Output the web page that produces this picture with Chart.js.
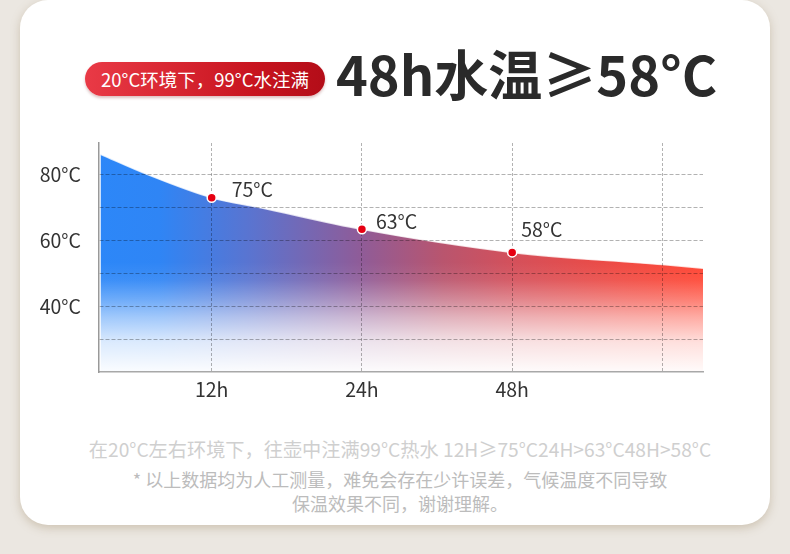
<!DOCTYPE html>
<html lang="zh-CN">
<head>
  <meta charset="UTF-8">
  <title>48h水温≥58°C</title>
  <script src="https://cdn.jsdelivr.net/npm/chart.js"></script>
  <style>
    body {
      margin: 0;
      width: 790px;
      height: 554px;
      overflow: hidden;
      background: #ebe7e1;
      font-family: "Noto Sans CJK SC", "Noto Sans", sans-serif;
      position: relative;
    }

    .card {
      position: absolute;
      left: 20px;
      top: 0;
      width: 750px;
      height: 525px;
      background: #fff;
      border-radius: 28px;
      box-shadow: 0 3px 10px rgba(150, 125, 90, 0.35);
    }

    .pill {
      position: absolute;
      left: 85px;
      top: 62px;
      width: 240px;
      height: 34px;
      border-radius: 17px;
      background: linear-gradient(90deg, #e93a46, #c8141f 70%, #b30d18);
      box-shadow: 0 2px 3px rgba(120, 0, 0, 0.25);
      color: #fff;
      font-size: 18.5px;
      line-height: 34px;
      text-align: center;
      white-space: nowrap;
    }

    .headline {
      position: absolute;
      left: 336px;
      top: 35px;
      font-size: 54px;
      font-weight: bold;
      line-height: 76px;
      color: #2a2a2a;
      white-space: nowrap;
    }

    .chart-box {
      position: absolute;
      left: 0;
      top: 120px;
      width: 790px;
      height: 300px;
    }

    .note {
      position: absolute;
      left: 5px;
      width: 790px;
      text-align: center;
      white-space: nowrap;
    }
  </style>
</head>
<body>
  <div class="card"></div>

  <div class="pill">20°C环境下，99°C水注满</div>
  <div class="headline">48h水温≥58°C</div>

  <div class="chart-box">
    <canvas id="tempChart"></canvas>
  </div>

  <div class="note" style="top:435px; color:#cfcfcf; font-size:19.2px;">在20°C左右环境下，往壶中注满99°C热水 12H≥75°C24H>63°C48H>58°C</div>
  <div class="note" style="top:466px; color:#bcbcbc; font-size:18px;">* 以上数据均为人工测量，难免会存在少许误差，气候温度不同导致</div>
  <div class="note" style="top:490px; color:#bcbcbc; font-size:18px;">保温效果不同，谢谢理解。</div>

  <script>
    // curve (x = slot index, 12h = 1, 24h = 2, 48h = 3)
    const curveX = [0.26, 0.57, 1, 1.31, 2, 3, 4, 4.27];
    const curveY = [86.1, 80, 72.9, 70, 63.3, 56.3, 52.6, 51.5];

    // marked points and their labels
    const markX = [1, 2, 3];
    const markY = [72.9, 63.3, 56.3];
    const markLabels = ['75°C', '63°C', '58°C'];

    // axes
    const xTicks = [1, 2, 3, 4];
    const xTickLabels = ['12h', '24h', '48h', ''];
    const yTicks = [20, 30, 40, 50, 60, 70, 80];
    const yTickLabels = ['', '', '40°C', '', '60°C', '', '80°C'];

    const labelOffsets = [[20, -8], [14, -8], [9, -23]];
    const FONT = '"Noto Sans CJK SC", "Noto Sans", sans-serif';

    // blue -> red across, fading to white at the bottom
    let patternCache = { key: '', pattern: null };
    function areaFill(chart) {
      const a = chart.chartArea;
      if (!a) return 'rgba(0,0,0,0)';
      const key = [a.left, a.top, a.right, a.bottom, chart.width, chart.height].join(',');
      if (patternCache.key === key) return patternCache.pattern;

      const c = document.createElement('canvas');
      c.width = chart.width;
      c.height = chart.height;
      const g = c.getContext('2d');

      const h = g.createLinearGradient(a.left, 0, a.right, 0);
      h.addColorStop(0, '#2c87f8');
      h.addColorStop(0.1, '#2f85f5');
      h.addColorStop(0.25, '#5a74d0');
      h.addColorStop(0.43, '#8e5c99');
      h.addColorStop(0.57, '#b9556e');
      h.addColorStop(0.69, '#d5505a');
      h.addColorStop(0.87, '#f04a42');
      h.addColorStop(1, '#ff4634');
      g.fillStyle = h;
      g.fillRect(0, 0, c.width, c.height);

      const v = g.createLinearGradient(0, a.top, 0, a.bottom);
      v.addColorStop(0, 'rgba(255,255,255,0)');
      v.addColorStop(0.52, 'rgba(255,255,255,0)');
      v.addColorStop(0.6, 'rgba(255,255,255,0.08)');
      v.addColorStop(0.68, 'rgba(255,255,255,0.3)');
      v.addColorStop(0.76, 'rgba(255,255,255,0.55)');
      v.addColorStop(0.87, 'rgba(255,255,255,0.83)');
      v.addColorStop(1, 'rgba(255,255,255,0.98)');
      g.fillStyle = v;
      g.fillRect(0, 0, c.width, c.height);

      patternCache = { key: key, pattern: chart.ctx.createPattern(c, 'no-repeat') };
      return patternCache.pattern;
    }

    // point labels + markers back on top of the grid
    const markerPlugin = {
      id: 'markerPlugin',
      afterDraw(chart) {
        const ctx = chart.ctx;
        const meta = chart.getDatasetMeta(1);
        meta.data.forEach((pt, i) => {
          pt.draw(ctx, chart.chartArea);
          ctx.save();
          ctx.font = '19.5px ' + FONT;
          ctx.fillStyle = '#333';
          ctx.textAlign = 'left';
          ctx.textBaseline = 'middle';
          ctx.fillText(markLabels[i], pt.x + labelOffsets[i][0], pt.y + labelOffsets[i][1]);
          ctx.restore();
        });
      }
    };

    const gridColor = 'rgba(0, 0, 0, 0.3)';

    new Chart(document.getElementById('tempChart'), {
      type: 'line',
      data: {
        datasets: [
          {
            data: curveX.map((x, i) => ({ x: x, y: curveY[i] })),
            fill: 'start',
            backgroundColor: (ctx) => areaFill(ctx.chart),
            borderColor: 'rgba(255,255,255,0.8)',
            borderWidth: 1.5,
            pointRadius: 0,
            cubicInterpolationMode: 'monotone'
          },
          {
            data: markX.map((x, i) => ({ x: x, y: markY[i] })),
            showLine: false,
            pointRadius: 4.5,
            pointBackgroundColor: '#e60012',
            pointBorderColor: '#fff',
            pointBorderWidth: 1.5
          }
        ]
      },
      options: {
        responsive: true,
        maintainAspectRatio: false,
        animation: false,
        layout: { padding: { top: 23, right: 87, bottom: 10, left: 0 } },
        plugins: {
          legend: { display: false },
          tooltip: { enabled: false }
        },
        scales: {
          x: {
            type: 'linear',
            min: 0.25,
            max: 4.27,
            afterBuildTicks: (scale) => { scale.ticks = xTicks.map(v => ({ value: v })); },
            afterFit: (scale) => { scale.height = 38; },
            ticks: {
              padding: 6,
              maxRotation: 0,
              autoSkip: false,
              color: '#333',
              font: { family: FONT, size: 19.5 },
              callback: (value, index) => xTickLabels[index]
            },
            grid: {
              z: 1,
              drawTicks: false,
              color: gridColor,
              lineWidth: 1
            },
            border: { display: true, z: 1, color: '#a8a8a8', width: 1.5, dash: [3, 2] }
          },
          y: {
            type: 'linear',
            min: 20,
            max: 89.5,
            afterBuildTicks: (scale) => { scale.ticks = yTicks.map(v => ({ value: v })); },
            afterFit: (scale) => {
              scale.width = 99;
              scale.paddingTop = 0;
              scale.paddingBottom = 0;
            },
            ticks: {
              padding: 18,
              autoSkip: false,
              color: '#333',
              font: { family: FONT, size: 19.5 },
              callback: (value, index) => yTickLabels[index]
            },
            grid: {
              z: 1,
              drawTicks: false,
              color: (ctx) => (ctx.tick && ctx.tick.value === 20 ? 'rgba(0,0,0,0)' : gridColor),
              lineWidth: 1
            },
            border: { display: true, z: 1, color: '#999', width: 1.5, dash: [4, 2] }
          }
        }
      },
      plugins: [markerPlugin]
    });
  </script>
</body>
</html>
